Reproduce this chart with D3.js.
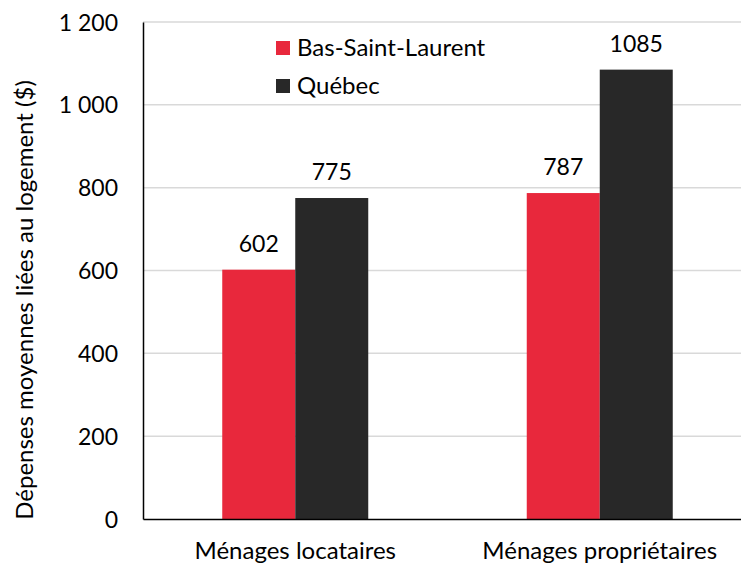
<!DOCTYPE html>
<html>
<head>
<meta charset="utf-8">
<script src="https://cdn.jsdelivr.net/npm/d3@7"></script>
<style>
    body { margin: 0; background: #fff; }
    text { font-family: Lato, "Open Sans", sans-serif; fill: #000; }
</style>
</head>
<body>
<svg id="chart"></svg>
<script>
// data
const categories = ["Ménages locataires", "Ménages propriétaires"];
const seriesNames = ["Bas-Saint-Laurent", "Québec"];
const basSaintLaurent = [602, 787];
const quebec = [775, 1085];
const yTicks = [0, 200, 400, 600, 800, 1000, 1200];

const colors = ["#e8283c", "#282828"];

const width = 741;
const height = 565;
const plotLeft = 143;
const plotTop = 22;
const plotBottom = 519;

const rows = categories.map((c, i) => ({
    category: c,
    values: [basSaintLaurent[i], quebec[i]]
}));

const svg = d3.select("#chart")
    .attr("width", width)
    .attr("height", height);

const yScale = d3.scaleLinear()
    .domain([0, 1200])
    .range([plotBottom, plotTop]);

// the plot area runs a little past the right edge of the picture
const xScale = d3.scaleBand()
    .domain(categories)
    .range([plotLeft, 752])
    .paddingInner(0)
    .paddingOuter(0);

const barWidth = 73;
const xSub = d3.scaleBand()
    .domain(seriesNames)
    .range([0, barWidth * 2]);

const fmt = d => d3.format(",")(d).replace(/,/g, " ");

// gridlines
svg.append("g")
    .selectAll("line")
    .data(yTicks.filter(d => d > 0))
    .enter()
    .append("line")
        .attr("x1", plotLeft)
        .attr("x2", width)
        .attr("y1", d => yScale(d))
        .attr("y2", d => yScale(d))
        .attr("stroke", "#d9d9d9")
        .attr("stroke-width", 1.5);

// bars
const groups = svg.append("g")
    .selectAll("g")
    .data(rows)
    .enter()
    .append("g")
        .attr("transform", d => `translate(${xScale(d.category) + xScale.bandwidth() / 2 - barWidth}, 0)`);

groups.selectAll("rect")
    .data(d => d.values.map((v, i) => ({ name: seriesNames[i], value: v, i: i })))
    .enter()
    .append("rect")
        .attr("x", d => xSub(d.name))
        .attr("width", xSub.bandwidth())
        .attr("y", d => yScale(d.value))
        .attr("height", d => yScale(0) - yScale(d.value))
        .attr("fill", d => colors[d.i]);

groups.selectAll("text")
    .data(d => d.values.map((v, i) => ({ name: seriesNames[i], value: v })))
    .enter()
    .append("text")
        .attr("x", d => xSub(d.name) + xSub.bandwidth() / 2)
        .attr("y", d => yScale(d.value) - 18)
        .style("text-anchor", "middle")
        .style("font-size", "23px")
        .text(d => d.value);

// y axis
const yAxis = d3.axisLeft(yScale)
    .tickValues(yTicks)
    .tickFormat(fmt)
    .tickSize(0)
    .tickPadding(25);

const yG = svg.append("g")
    .attr("transform", `translate(${plotLeft}, 0)`)
    .call(yAxis);
yG.select(".domain").attr("stroke", "#000").attr("stroke-width", 1.5);
yG.selectAll("text")
    .style("font-family", "Lato, 'Open Sans', sans-serif")
    .style("font-size", "23px")
    .attr("dy", "0.35em");

// x axis
const xAxis = d3.axisBottom(xScale)
    .tickSize(0)
    .tickPadding(23);

const xG = svg.append("g")
    .attr("transform", `translate(0, ${plotBottom})`)
    .call(xAxis);
xG.select(".domain").attr("stroke", "#000").attr("stroke-width", 1.5);
xG.selectAll("text")
    .style("font-family", "Lato, 'Open Sans', sans-serif")
    .style("font-size", "24px");

// y axis label
svg.append("text")
    .attr("transform", "rotate(-90)")
    .attr("x", -300)
    .attr("y", 33)
    .style("text-anchor", "middle")
    .style("font-size", "24px")
    .text("Dépenses moyennes liées au logement ($)");

// legend
const legend = svg.append("g")
    .selectAll("g")
    .data(seriesNames)
    .enter()
    .append("g")
        .attr("transform", (d, i) => `translate(276, ${41 + i * 38})`);

legend.append("rect")
    .attr("width", 14)
    .attr("height", 14)
    .attr("fill", (d, i) => colors[i]);

legend.append("text")
    .attr("x", 21)
    .attr("y", 15)
    .style("font-size", "24px")
    .text(d => d);
</script>
</body>
</html>
